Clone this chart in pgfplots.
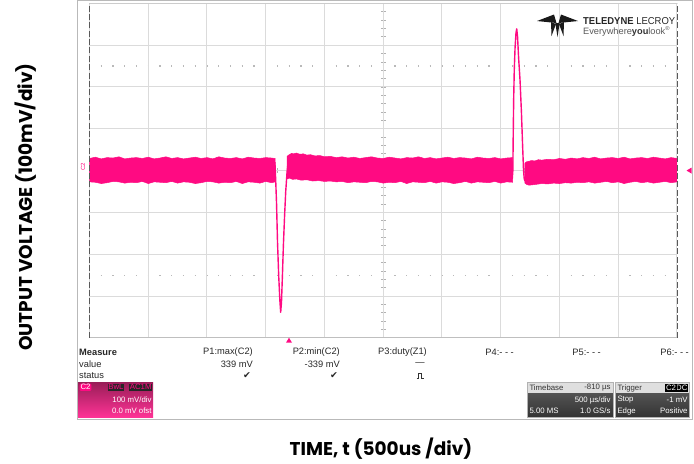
\documentclass[border=0pt]{standalone}
\usepackage{pgfplots}
\pgfplotsset{compat=1.18}
\usepackage{fontspec}
\setmainfont{Liberation Sans}
\newfontfamily\labfont{Poppins}
\newfontfamily\symfont{DejaVu Sans}
\definecolor{trace}{HTML}{FF0A82}
\definecolor{c2top}{HTML}{9A1E58}
\definecolor{c2bot}{HTML}{FF3396}
\begin{document}
\begin{tikzpicture}
\begin{scope}[x=1pt,y=1pt]
\useasboundingbox (0,0) rectangle (694,463);
% screenshot frame
\draw[gray!55, line width=0.9pt] (77,44) rectangle (692,462.6);
% dotted lines at +-2.5 div
\draw[gray!55, line width=1.1pt, dash pattern=on 1.1pt off 10.65pt] (88.95,396.98) -- (677,396.98);
\draw[gray!55, line width=1.1pt, dash pattern=on 1.1pt off 10.65pt] (88.95,187.92) -- (677,187.92);
% centre cross minor ticks
\foreach \k in {-19,...,19} \draw[gray!60, line width=0.7pt] (380.9,{292.45+\k*8.3625}) -- (385.6,{292.45+\k*8.3625});
\foreach \k in {1,...,49} \draw[gray!60, line width=0.7pt] ({89.5+\k*11.75},290.1) -- ({89.5+\k*11.75},294.8);
\end{scope}
\begin{axis}[at={(89.5pt,125.2pt)}, anchor=south west,
  width=587.5pt, height=334.5pt, scale only axis,
  xmin=0, xmax=5000, ymin=-400, ymax=400,
  xtick={0,500,...,5000}, ytick={-400,-300,...,400},
  xticklabels={}, yticklabels={},
  major tick length=0pt, tick style={draw=none},
  axis line style={draw=none},
  grid=major, major grid style={gray!28, line width=1pt},
  clip=false]
% noise band, segment 1
\addplot[draw=trace, fill=trace, line width=0.5pt] coordinates {
(0,29)(50,32)(100,28)(150,31)(200,30)(250,33)(300,28)(350,30)(400,31)(450,29)(500,32)(550,28)(600,30)(650,33)(700,29)(750,31)(800,28)(850,30)(900,32)(950,29)(1000,31)(1050,28)(1100,33)(1150,30)(1200,29)(1250,31)(1300,28)(1350,32)(1400,30)(1450,29)(1500,31)(1550,30)(1580,29)
(1580,-27)(1550,-29)(1500,-26)(1450,-30)(1400,-28)(1350,-27)(1300,-31)(1250,-26)(1200,-29)(1150,-28)(1100,-30)(1050,-27)(1000,-26)(950,-29)(900,-31)(850,-28)(800,-27)(750,-30)(700,-26)(650,-29)(600,-28)(550,-27)(500,-31)(450,-26)(400,-29)(350,-28)(300,-30)(250,-27)(200,-26)(150,-29)(100,-31)(50,-28)(0,-27)
} -- cycle;
% segment 2
\addplot[draw=trace, fill=trace, line width=0.5pt] coordinates {
(1681,34)(1700,38)(1720,41)(1740,40)(1760,42)(1790,39)(1820,40)(1850,37)(1880,38)(1920,35)(1960,36)(2000,33)(2050,34)(2100,31)(2150,33)(2200,30)(2250,32)(2300,29)(2350,31)(2400,33)(2450,30)(2500,29)(2550,32)(2600,30)(2650,28)(2700,31)(2750,30)(2800,33)(2850,29)(2900,31)(2950,28)(3000,30)(3050,32)(3100,29)(3150,31)(3200,30)(3250,28)(3300,32)(3350,30)(3400,29)(3450,31)(3500,28)(3550,30)(3602,31)
(3602,-28)(3550,-27)(3500,-30)(3450,-26)(3400,-29)(3350,-28)(3300,-27)(3250,-30)(3200,-26)(3150,-29)(3100,-31)(3050,-28)(3000,-27)(2950,-30)(2900,-26)(2850,-29)(2800,-28)(2750,-27)(2700,-31)(2650,-26)(2600,-29)(2550,-28)(2500,-30)(2450,-27)(2400,-26)(2350,-29)(2300,-28)(2250,-27)(2200,-29)(2150,-26)(2100,-27)(2050,-25)(2000,-26)(1950,-24)(1900,-25)(1850,-22)(1800,-23)(1760,-20)(1730,-21)(1700,-18)(1681,-20)
} -- cycle;
% segment 3
\addplot[draw=trace, fill=trace, line width=0.5pt] coordinates {
(3706,18)(3720,21)(3740,22)(3760,24)(3790,23)(3820,26)(3850,25)(3900,27)(3950,26)(4000,29)(4050,27)(4100,30)(4150,28)(4200,31)(4250,29)(4300,32)(4350,28)(4400,30)(4450,31)(4500,29)(4550,32)(4600,28)(4650,30)(4700,31)(4750,29)(4800,32)(4850,30)(4900,28)(4950,31)(5000,29)
(5000,-27)(4950,-29)(4900,-26)(4850,-28)(4800,-30)(4750,-27)(4700,-29)(4650,-26)(4600,-28)(4550,-31)(4500,-27)(4450,-29)(4400,-26)(4350,-28)(4300,-30)(4250,-27)(4200,-29)(4150,-28)(4100,-30)(4050,-29)(4000,-31)(3950,-30)(3900,-32)(3850,-31)(3800,-33)(3770,-34)(3740,-35)(3720,-33)(3706,-30)
} -- cycle;
% negative spike
\addplot[trace, line width=1.4pt, line join=round] coordinates {
(1578,20)(1585,-25)(1592,-80)(1600,-170)(1610,-250)(1620,-310)(1627,-339)(1634,-315)(1642,-250)(1650,-180)(1660,-110)(1670,-50)(1681,-5)(1690,20)};
% positive spike
\addplot[trace, line width=1.4pt, line join=round] coordinates {
(3598,-20)(3603,0)(3606,80)(3610,170)(3615,240)(3622,295)(3630,330)(3636,339)(3643,320)(3652,270)(3664,217)(3676,140)(3686,60)(3694,0)(3700,-20)(3706,-25)};
\end{axis}
\begin{scope}[x=1pt,y=1pt]
% borders
\draw[gray!40, line width=0.9pt] (89.5,459.7) -- (677,459.7);
\draw[gray!50, line width=0.9pt] (89.5,125.2) -- (677,125.2);
\draw[gray!70!black, line width=0.9pt, dash pattern=on 6pt off 2.3625pt] (89.5,125.2) -- (89.5,459.7);
\draw[gray!70!black, line width=0.9pt, dash pattern=on 6pt off 2.3625pt] (677,125.2) -- (677,459.7);
% channel markers
\node[text=trace, rotate=90, font=\fontsize{6}{6}\selectfont, inner sep=0pt] at (83,296) {C2};
\fill[trace] (686.5,292.45) -- (691.5,295.4) -- (691.5,289.5) -- cycle;
\fill[trace] (286,120.3) -- (292,120.3) -- (289,125.3) -- cycle;
% logo (Teledyne mark)
\fill[black!90] (537,442) -- (554,448.5) -- (556.5,440) -- cycle;
\fill[black!90] (578,442) -- (561,448.5) -- (558.5,440) -- cycle;
\fill[black!90] (551,441) -- (556,439) -- (551.5,427) -- cycle;
\fill[black!90] (564,441) -- (559,439) -- (563.5,427) -- cycle;
\fill[black!90] (555.3,440) -- (559.7,440) -- (557.5,426) -- cycle;
\node[anchor=west, inner sep=0pt, text=black!85] at (583,442) {\resizebox{92pt}{7pt}{\textbf{TELEDYNE} LECROY}};
\node[anchor=west, inner sep=0pt, text=gray!70!black] at (583,431.5) {\resizebox{87pt}{!}{\fontsize{8}{8}\selectfont Everywhere\textbf{\color{black!80}you}look\textsuperscript{\tiny\textregistered}}};
% measure table
\begin{scope}[font=\fontsize{9.3}{10}\selectfont, inner sep=0pt, text=black!85]
\node[anchor=west, font=\fontsize{9.3}{10}\selectfont\bfseries] at (79,111) {Measure};
\node[anchor=west] at (79,99) {value};
\node[anchor=west] at (79,87.5) {status};
\node[anchor=east] at (253,111) {P1:max(C2)};
\node[anchor=east] at (340,111) {P2:min(C2)};
\node[anchor=east] at (427,111) {P3:duty(Z1)};
\node[anchor=east] at (514,111) {P4:- - -};
\node[anchor=east] at (601,111) {P5:- - -};
\node[anchor=east] at (689,111) {P6:- - -};
\node[anchor=east] at (253,99) {339 mV};
\node[anchor=east] at (340,99) {-339 mV};
\node at (420,99) {---};
\node at (247,87.5) {\symfont ✔};
\node at (334,87.5) {\symfont ✔};
\end{scope}
\draw[black!80, line width=0.6pt] (416.5,85) -- (418.5,85) -- (418.5,90) -- (421.5,90) -- (421.5,85) -- (423.5,85);
% C2 box
\shade[top color=c2top, bottom color=c2bot] (78,45.5) rectangle (153,80.5);
\begin{scope}[font=\fontsize{7.8}{8}\selectfont, inner sep=0.8pt]
\node[anchor=north west, fill=trace, text=white, rounded corners=1pt] at (79.5,79.5) {C2};
\node[anchor=north east, fill=black!85, text=trace] at (124.5,79.5) {BwL};
\node[anchor=north east, fill=black!85, text=trace] at (152.5,79.5) {AC1M};
\node[anchor=east, text=white] at (152.5,63) {100 mV/div};
\node[anchor=east, text=white] at (152.5,52) {0.0 mV ofst};
% Timebase box
\fill[gray!25] (527,70) rectangle (613,80.5);
\shade[top color=gray!65!black, bottom color=gray!40!black] (527,45.5) rectangle (613,70);
\draw[gray!60] (527,45.5) rectangle (613,80.5);
\node[anchor=west, text=black!80] at (528.5,75) {Timebase};
\node[anchor=east, text=black!80] at (611.5,75) {-810 µs};
\node[anchor=east, text=white] at (611.5,63) {500 µs/div};
\node[anchor=west, text=white] at (528.5,52) {5.00 MS};
\node[anchor=east, text=white] at (611.5,52) {1.0 GS/s};
% Trigger box
\fill[gray!25] (615,70) rectangle (689.5,80.5);
\shade[top color=gray!65!black, bottom color=gray!40!black] (615,45.5) rectangle (689.5,70);
\draw[gray!60] (615,45.5) rectangle (689.5,80.5);
\node[anchor=west, text=black!80] at (616.5,75) {Trigger};
\node[anchor=east, fill=black, text=white] at (688.5,75) {DC};
\node[anchor=east, fill=black, text=white] at (677,75) {C2};
\node[anchor=west, text=white] at (616.5,63) {Stop};
\node[anchor=east, text=white] at (688.5,63) {-1 mV};
\node[anchor=west, text=white] at (616.5,52) {Edge};
\node[anchor=east, text=white] at (688.5,52) {Positive};
\end{scope}
% axis titles
\node[rotate=90, font=\labfont\bfseries\fontsize{18.5}{18.5}\selectfont, text=black] at (26,256) {OUTPUT VOLTAGE (100mV/div)};
\node[font=\labfont\bfseries\fontsize{18.5}{18.5}\selectfont, text=black] at (381,14) {TIME, t (500us /div)};
\end{scope}
\end{tikzpicture}
\end{document}
